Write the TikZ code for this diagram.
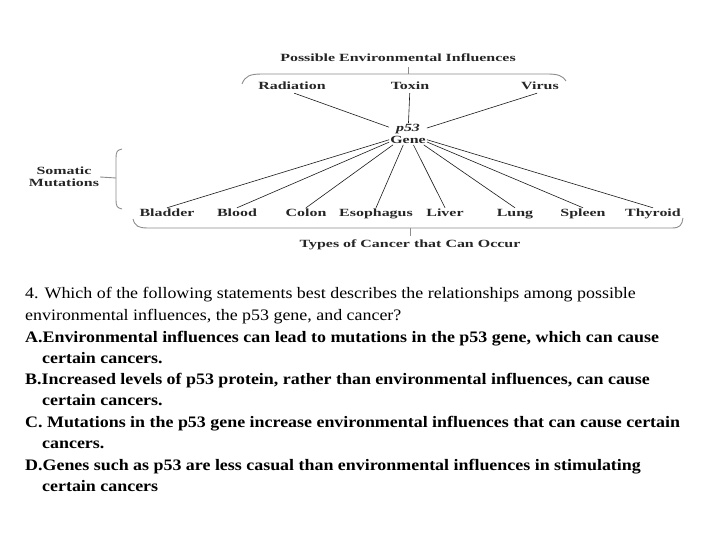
\documentclass[tikz,border=0pt]{standalone}
\usepackage{fontspec}
\setmainfont{Liberation Serif}
\newfontfamily\diagfont[FakeStretch=1.45]{Liberation Serif}
\newfontfamily\quizfont[FakeStretch=1.12]{Liberation Serif}

\tikzset{
  lbl/.style={font=\diagfont\bfseries\fontsize{11}{12}\selectfont, text=black!85, inner sep=1pt},
  word/.style={lbl, text height=7.5pt, text depth=2.5pt},
  brace/.style={draw=black!45, line width=0.9pt},
  link/.style={draw=black!90, line width=0.6pt},
  qline/.style={anchor=base west, inner sep=0pt, font=\quizfont\fontsize{16}{18}\selectfont},
  qopt/.style={qline, font=\quizfont\bfseries\fontsize{16}{18}\selectfont}
}

\begin{document}
\begin{tikzpicture}[x=1pt, y=-1pt]
  \useasboundingbox (0,0) rectangle (720,540);

  % influences
  \node[word] (influences) at (398,59) {Possible Environmental Influences};
  \node[word] (radiation) at (292,87) {Radiation};
  \node[word] (toxin) at (410,87) {Toxin};
  \node[word] (virus) at (540,87) {Virus};
  \node[lbl, align=center] (gene) at (408,134) {\textit{p53}\\Gene};

  \draw[brace] (242,84) .. controls (245,76) and (250,74) .. (262,74)
    -- (548,74) .. controls (558,74) and (563,76) .. (566,81);
  \draw[brace] (408,74) -- (408,67);

  \draw[link] (radiation.-70) -- (gene);
  \draw[link] (toxin) -- (gene);
  \draw[link] (virus.-115) -- (gene);

  % cancers
  \foreach \name/\xpos in {Bladder/167, Blood/237, Colon/306, Esophagus/376,
                           Liver/445, Lung/515, Spleen/583, Thyroid/653}{
    \node[word] (\name) at (\xpos,214) {\name};
    \draw[link] (gene) -- (\name.north);
  }

  \draw[brace] (133,219) .. controls (135,226) and (138,228) .. (148,228)
    -- (672,228) .. controls (680,228) and (682,225) .. (683,218);
  \draw[brace] (410,228) -- (410,236);
  \node[word] (types) at (410,245) {Types of Cancer that Can Occur};

  % somatic mutations
  \node[lbl, align=center] (somatic) at (64,177) {Somatic\\Mutations};
  \draw[brace] (122,149) .. controls (117,150) and (116,152) .. (116,158)
    -- (116,200) .. controls (116,206) and (117,208) .. (122,209);
  \draw[brace] (somatic.east) -- (116,178);

  % question
  \node[qline] (q1) at (25,298) {4. Which of the following statements best describes the relationships among possible};
  \node[qline] (q2) at (25,320) {environmental influences, the p53 gene, and cancer?};
  \node[qopt] (a1) at (25,342) {A.Environmental influences can lead to mutations in the p53 gene, which can cause};
  \node[qopt] (a2) at (42,363) {certain cancers.};
  \node[qopt] (b1) at (25,384) {B.Increased levels of p53 protein, rather than environmental influences, can cause};
  \node[qopt] (b2) at (42,405) {certain cancers.};
  \node[qopt] (c1) at (25,427) {C. Mutations in the p53 gene increase environmental influences that can cause certain};
  \node[qopt] (c2) at (42,448) {cancers.};
  \node[qopt] (d1) at (25,470) {D.Genes such as p53 are less casual than environmental influences in stimulating};
  \node[qopt] (d2) at (42,491) {certain cancers};
\end{tikzpicture}
\end{document}
